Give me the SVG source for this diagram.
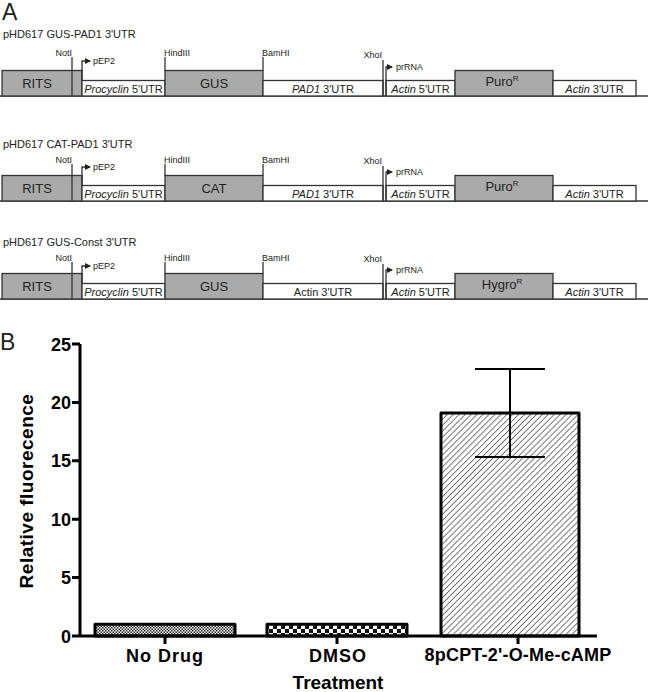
<svg xmlns="http://www.w3.org/2000/svg" width="650" height="692" viewBox="0 0 650 692">
<style>
text{font-family:"Liberation Sans",Arial,sans-serif;fill:#222}
.ttl{font-size:11px}
.site{font-size:9px}
.lbl{font-size:13px;text-anchor:middle}
.utr{font-size:11px;text-anchor:middle}
.grey{fill:#aaaaaa;stroke:#333;stroke-width:1.3}
.white{fill:#fff;stroke:#333;stroke-width:1.3}
.ln{stroke:#333;stroke-width:1.3;fill:none}
.ax{stroke:#000;stroke-width:3;fill:none}
.tick{font-size:18px;font-weight:bold;text-anchor:end;fill:#000}
.xl{font-size:18px;font-weight:bold;text-anchor:middle;letter-spacing:1px;fill:#000}
.bar{stroke:#000;stroke-width:3;stroke-linejoin:round}
.err{stroke:#000;stroke-width:2;fill:none}
</style>
<defs>
<marker id="ah" viewBox="0 0 6 6" refX="5" refY="3" markerWidth="6" markerHeight="6" orient="auto" markerUnits="userSpaceOnUse">
<path d="M0,0 L6,3 L0,6 z" fill="#222"/>
</marker>
<pattern id="p1" width="3" height="3" patternUnits="userSpaceOnUse">
<rect width="3" height="3" fill="#fff"/>
<rect width="1.5" height="1.5" fill="#222"/>
<rect x="1.5" y="1.5" width="1.5" height="1.5" fill="#222"/>
</pattern>
<pattern id="p2" width="8" height="8" patternUnits="userSpaceOnUse" x="1" y="1">
<rect width="8" height="8" fill="#fff"/>
<rect width="4" height="4" fill="#111"/>
<rect x="4" y="4" width="4" height="4" fill="#111"/>
</pattern>
<pattern id="p3" width="4.2" height="4.2" patternUnits="userSpaceOnUse" patternTransform="rotate(45)">
<rect width="4.2" height="4.2" fill="#fff"/>
<line x1="0" y1="0" x2="0" y2="4.2" stroke="#222" stroke-width="1.2"/>
</pattern>
</defs>
<rect width="650" height="692" fill="#fff"/>

<text x="2" y="20" style="font-size:23px">A</text>

<!-- Construct 1 -->
<g id="construct1">
<text class="ttl" x="3" y="38">pHD617 GUS-PAD1 3'UTR</text>
<g transform="translate(0,96)">
<line class="ln" x1="0" y1="0" x2="648" y2="0"/>
<rect class="grey" x="2" y="-25.5" width="80" height="25.5"/>
<line class="ln" x1="72" y1="-39" x2="72" y2="0"/>
<text class="site" x="72" y="-40" text-anchor="end">NotI</text>
<rect class="white" x="82" y="-15.5" width="83" height="15.5"/>
<path class="ln" d="M82,-15.5 V-35 H90" marker-end="url(#ah)"/>
<text class="site" x="93" y="-32">pEP2</text>
<text class="utr" x="123.5" y="-3.5"><tspan font-style="italic">Procyclin</tspan> 5'UTR</text>
<rect class="grey" x="165" y="-25.5" width="98" height="25.5"/>
<line class="ln" x1="165" y1="-39" x2="165" y2="-25.5"/>
<text class="site" x="164" y="-40">HindIII</text>
<text class="lbl" x="214" y="-8">GUS</text>
<line class="ln" x1="263" y1="-39" x2="263" y2="-25.5"/>
<text class="site" x="262" y="-40">BamHI</text>
<rect class="white" x="263" y="-15.5" width="120" height="15.5"/>
<text class="utr" x="323" y="-3.5"><tspan font-style="italic">PAD1</tspan> 3'UTR</text>
<line class="ln" x1="383" y1="-36" x2="383" y2="0"/>
<text class="site" x="382" y="-38" text-anchor="end">XhoI</text>
<rect class="white" x="386" y="-15.5" width="69" height="15.5"/>
<path class="ln" d="M386,0 V-29 H392" marker-end="url(#ah)"/>
<text class="site" x="396" y="-26">prRNA</text>
<text class="utr" x="420.5" y="-3.5"><tspan font-style="italic">Actin</tspan> 5'UTR</text>
<rect class="grey" x="455" y="-25.5" width="98" height="25.5"/>
<text class="lbl" x="502" y="-10">Puro<tspan font-size="8" dy="-5">R</tspan></text>
<rect class="white" x="553" y="-15.5" width="83" height="15.5"/>
<text class="utr" x="594.5" y="-3.5"><tspan font-style="italic">Actin</tspan> 3'UTR</text>
<text class="lbl" x="37" y="-8">RITS</text>
</g>
</g>

<!-- Construct 2 -->
<g id="construct2">
<text class="ttl" x="3" y="148">pHD617 CAT-PAD1 3'UTR</text>
<g transform="translate(0,201)">
<line class="ln" x1="0" y1="0" x2="648" y2="0"/>
<rect class="grey" x="2" y="-25.5" width="80" height="25.5"/>
<line class="ln" x1="72" y1="-37" x2="72" y2="0"/>
<text class="site" x="72" y="-38" text-anchor="end">NotI</text>
<rect class="white" x="82" y="-15.5" width="83" height="15.5"/>
<path class="ln" d="M82,-15.5 V-34 H90" marker-end="url(#ah)"/>
<text class="site" x="93" y="-31">pEP2</text>
<text class="utr" x="123.5" y="-3.5"><tspan font-style="italic">Procyclin</tspan> 5'UTR</text>
<rect class="grey" x="165" y="-25.5" width="98" height="25.5"/>
<line class="ln" x1="165" y1="-37" x2="165" y2="-25.5"/>
<text class="site" x="164" y="-38">HindIII</text>
<text class="lbl" x="214" y="-8">CAT</text>
<line class="ln" x1="263" y1="-37" x2="263" y2="-25.5"/>
<text class="site" x="262" y="-38">BamHI</text>
<rect class="white" x="263" y="-15.5" width="120" height="15.5"/>
<text class="utr" x="323" y="-3.5"><tspan font-style="italic">PAD1</tspan> 3'UTR</text>
<line class="ln" x1="383" y1="-35" x2="383" y2="0"/>
<text class="site" x="382" y="-37" text-anchor="end">XhoI</text>
<rect class="white" x="386" y="-15.5" width="69" height="15.5"/>
<path class="ln" d="M386,0 V-29 H392" marker-end="url(#ah)"/>
<text class="site" x="396" y="-26">prRNA</text>
<text class="utr" x="420.5" y="-3.5"><tspan font-style="italic">Actin</tspan> 5'UTR</text>
<rect class="grey" x="455" y="-25.5" width="98" height="25.5"/>
<text class="lbl" x="502" y="-10">Puro<tspan font-size="8" dy="-5">R</tspan></text>
<rect class="white" x="553" y="-15.5" width="83" height="15.5"/>
<text class="utr" x="594.5" y="-3.5"><tspan font-style="italic">Actin</tspan> 3'UTR</text>
<text class="lbl" x="37" y="-8">RITS</text>
</g>
</g>

<!-- Construct 3 -->
<g id="construct3">
<text class="ttl" x="3" y="246">pHD617 GUS-Const 3'UTR</text>
<g transform="translate(0,299)">
<line class="ln" x1="0" y1="0" x2="648" y2="0"/>
<rect class="grey" x="2" y="-25.5" width="80" height="25.5"/>
<line class="ln" x1="72" y1="-37" x2="72" y2="0"/>
<text class="site" x="72" y="-38" text-anchor="end">NotI</text>
<rect class="white" x="82" y="-15.5" width="83" height="15.5"/>
<path class="ln" d="M82,-15.5 V-33 H90" marker-end="url(#ah)"/>
<text class="site" x="93" y="-30">pEP2</text>
<text class="utr" x="123.5" y="-3.5"><tspan font-style="italic">Procyclin</tspan> 5'UTR</text>
<rect class="grey" x="165" y="-25.5" width="98" height="25.5"/>
<line class="ln" x1="165" y1="-37" x2="165" y2="-25.5"/>
<text class="site" x="164" y="-38">HindIII</text>
<text class="lbl" x="214" y="-8">GUS</text>
<line class="ln" x1="263" y1="-37" x2="263" y2="-25.5"/>
<text class="site" x="262" y="-38">BamHI</text>
<rect class="white" x="263" y="-15.5" width="120" height="15.5"/>
<text class="utr" x="323" y="-3.5">Actin 3'UTR</text>
<line class="ln" x1="383" y1="-35" x2="383" y2="0"/>
<text class="site" x="382" y="-37" text-anchor="end">XhoI</text>
<rect class="white" x="386" y="-15.5" width="69" height="15.5"/>
<path class="ln" d="M386,0 V-29 H392" marker-end="url(#ah)"/>
<text class="site" x="396" y="-26">prRNA</text>
<text class="utr" x="420.5" y="-3.5"><tspan font-style="italic">Actin</tspan> 5'UTR</text>
<rect class="grey" x="455" y="-25.5" width="98" height="25.5"/>
<text class="lbl" x="502" y="-10">Hygro<tspan font-size="8" dy="-5">R</tspan></text>
<rect class="white" x="553" y="-15.5" width="83" height="15.5"/>
<text class="utr" x="594.5" y="-3.5"><tspan font-style="italic">Actin</tspan> 3'UTR</text>
<text class="lbl" x="37" y="-8">RITS</text>
</g>
</g>

<!-- Panel B -->
<text x="0" y="350" style="font-size:23px">B</text>
<g id="chart">
<g id="bars">
<rect class="bar" x="95" y="624.3" width="140" height="11.7" fill="url(#p1)"/>
<rect class="bar" x="267" y="624.3" width="140" height="11.7" fill="url(#p2)"/>
<rect class="bar" x="441" y="413" width="138" height="223" fill="url(#p3)"/>
</g>
<g id="errorbar">
<line class="err" x1="510" y1="369" x2="510" y2="457"/>
<line class="err" x1="475" y1="369" x2="545" y2="369"/>
<line class="err" x1="475" y1="457" x2="545" y2="457"/>
</g>
<g id="axes">
<path class="ax" d="M80,344 V636 M72,636 H597"/>
<path class="ax" d="M72,344 H80 M72,402.4 H80 M72,460.8 H80 M72,519.2 H80 M72,577.6 H80 M165,636 V644 M337,636 V644 M518,636 V644"/>
<text class="tick" x="71" y="350.5">25</text>
<text class="tick" x="71" y="408.9">20</text>
<text class="tick" x="71" y="467.3">15</text>
<text class="tick" x="71" y="525.7">10</text>
<text class="tick" x="71" y="584.1">5</text>
<text class="tick" x="71" y="642.5">0</text>
<text class="xl" x="165" y="662">No Drug</text>
<text class="xl" x="338" y="662">DMSO</text>
<text class="xl" x="518" y="661" style="letter-spacing:0.2px">8pCPT-2'-O-Me-cAMP</text>
<text x="338" y="689" style="font-size:19px;font-weight:bold;text-anchor:middle;fill:#000">Treatment</text>
<text transform="translate(33,491) rotate(-90)" style="font-size:19px;font-weight:bold;text-anchor:middle;letter-spacing:0.5px;fill:#000">Relative fluorecence</text>
</g>
</g>
</svg>
